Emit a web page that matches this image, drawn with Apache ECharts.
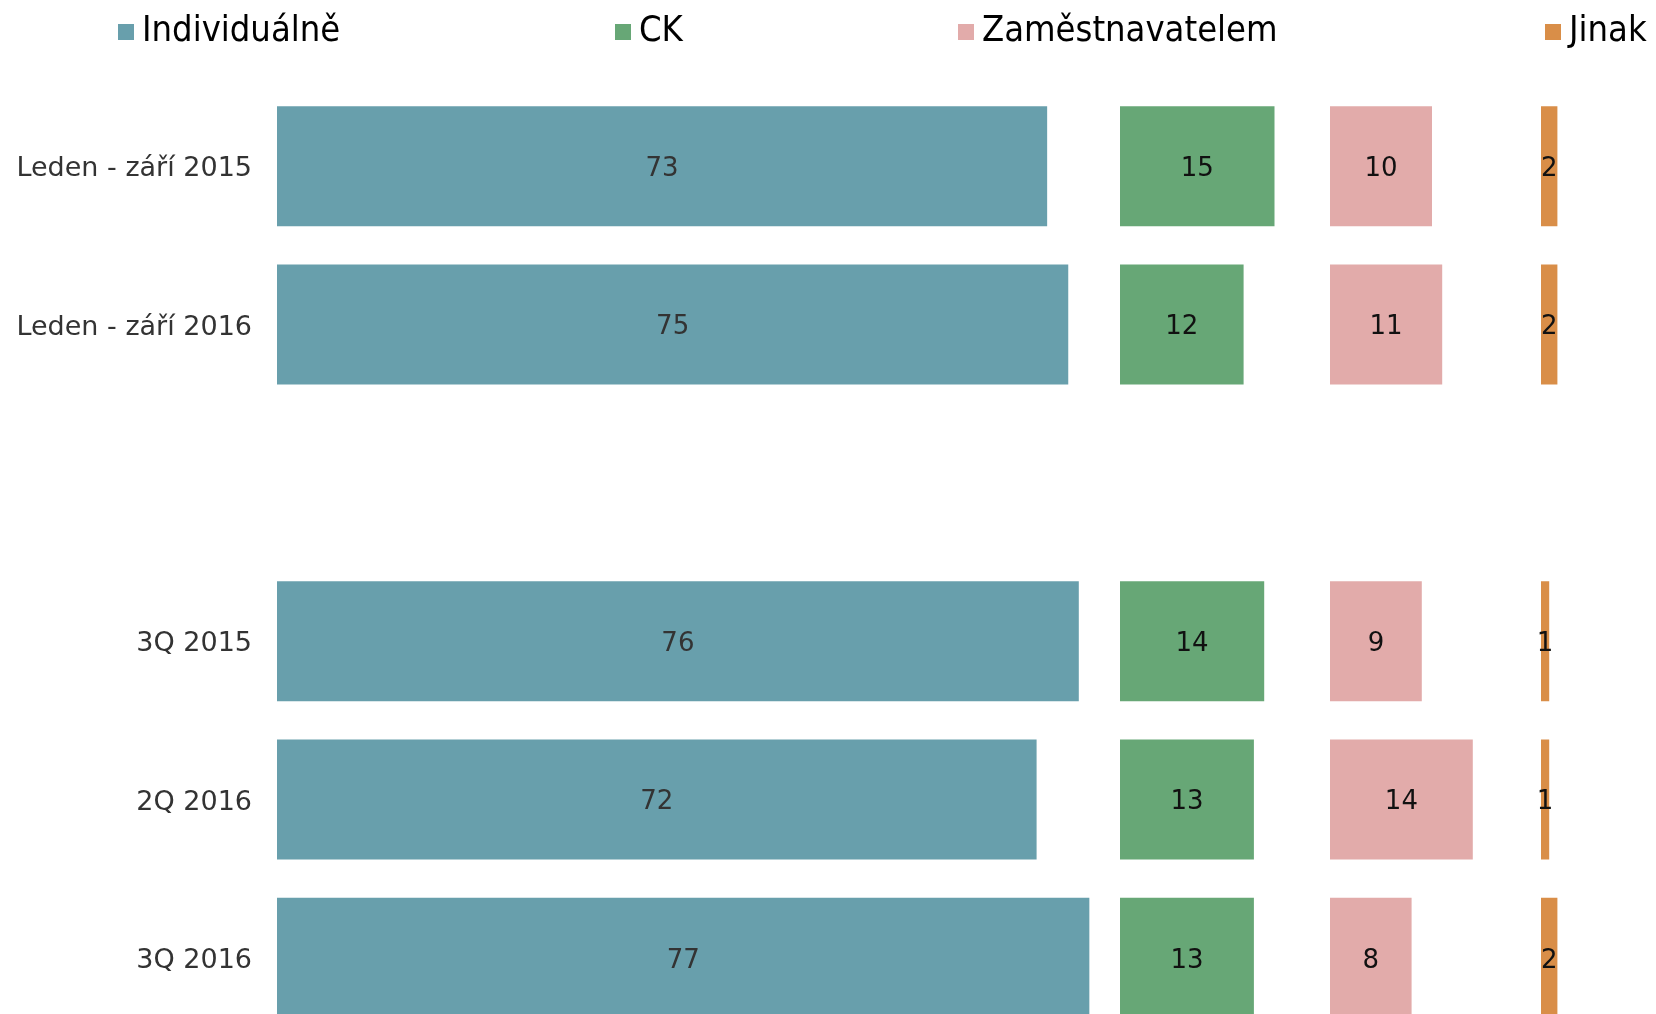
<!DOCTYPE html>
<html>
<head>
<meta charset="utf-8">
<script src="https://cdn.jsdelivr.net/npm/echarts@6/dist/echarts.min.js"></script>
<style>
  html, body { margin: 0; padding: 0; background: #fff; }
  #chart { width: 1656px; height: 1014px; }
</style>
</head>
<body>
<div id="chart"></div>
<script>
// data
var categories = ['Leden - září 2015', 'Leden - září 2016', '', '3Q 2015', '2Q 2016', '3Q 2016'];
var seriesNames = ['Individuálně', 'CK', 'Zaměstnavatelem', 'Jinak'];
var individualne = [73, 75, null, 76, 72, 77];
var ck = [15, 12, null, 14, 13, 13];
var zamestnavatelem = [10, 11, null, 9, 14, 8];
var jinak = [2, 2, null, 1, 1, 2];

var colors = ['#689FAC', '#67A776', '#E2ABAA', '#D98E48'];
var values = [individualne, ck, zamestnavatelem, jinak];

// each column is its own panel
var panels = [
    { left: 277, width: 844, max: 80 },
    { left: 1120, width: 206, max: 20 },
    { left: 1330, width: 204, max: 20 },
    { left: 1541, width: 82, max: 10 }
];
var legendLeft = [118, 615, 958, 1545];

var myChart = echarts.init(document.getElementById('chart'));

var grids = [], xAxes = [], yAxes = [], series = [], legends = [];
panels.forEach(function (p, i) {
    // the last row runs past the bottom edge, like in the original
    grids.push({ left: p.left, width: p.width, top: 87, height: 950, outerBoundsMode: 'none', containLabel: false });
    xAxes.push({ type: 'value', gridIndex: i, min: 0, max: p.max, show: false });
    yAxes.push({
        type: 'category',
        gridIndex: i,
        data: categories,
        inverse: true,
        axisLine: { show: false },
        axisTick: { show: false },
        splitLine: { show: false },
        axisLabel: {
            show: i === 0,
            margin: 25,
            formatter: function (v) { return '{c|' + v + '}'; },
            rich: {
                c: {
                    fontFamily: 'DejaVu Sans',
                    fontSize: 27,
                    color: '#333',
                    padding: [6, 0, 0, 0]
                }
            }
        }
    });
    series.push({
        name: seriesNames[i],
        type: 'bar',
        xAxisIndex: i,
        yAxisIndex: i,
        data: values[i],
        barWidth: 120,
        itemStyle: { color: colors[i] },
        label: {
            show: true,
            position: 'inside',
            offset: [0, 3],
            fontFamily: 'DejaVu Sans',
            fontSize: 26,
            color: i === 0 ? '#333' : '#111'
        }
    });
    legends.push({
        data: [seriesNames[i]],
        left: legendLeft[i],
        top: 14,
        padding: 0,
        itemWidth: 16,
        itemHeight: 16,
        icon: 'rect',
        textStyle: {
            fontFamily: "'DejaVu Sans Condensed', 'DejaVu Sans'",
            fontSize: 36,
            color: '#000',
            padding: [0, 0, 0, 3]
        }
    });
});

myChart.setOption({
    animation: false,
    color: colors,
    legend: legends,
    grid: grids,
    xAxis: xAxes,
    yAxis: yAxes,
    series: series
});
</script>
</body>
</html>
